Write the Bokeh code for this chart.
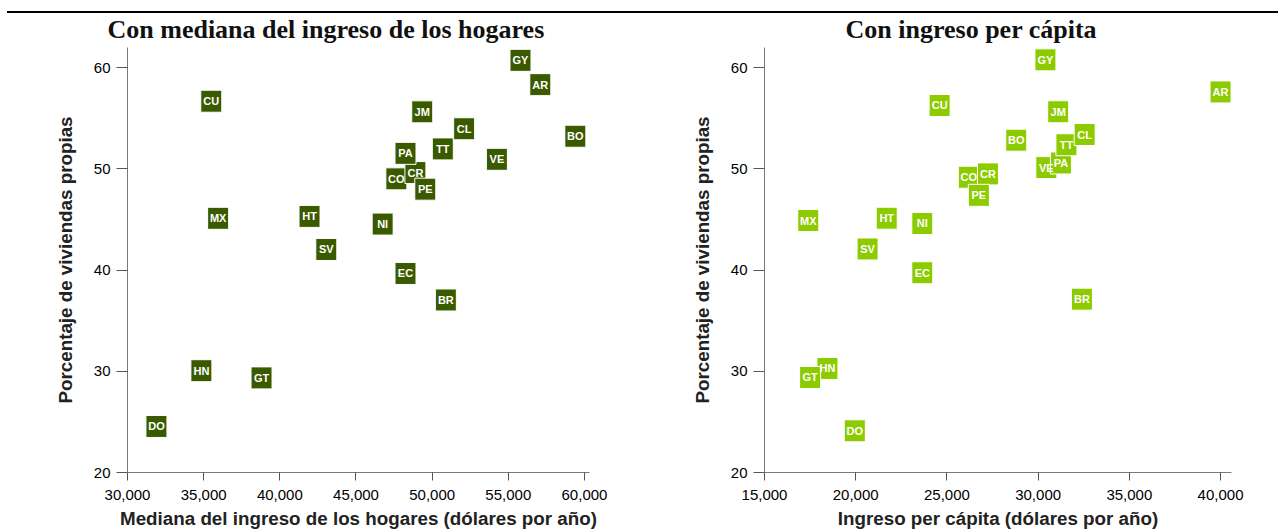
from bokeh.plotting import figure
from bokeh.models import ColumnDataSource, FixedTicker, NumeralTickFormatter, Div
from bokeh.layouts import row, column
from bokeh.embed import file_html
from bokeh.resources import INLINE
from bokeh.core.properties import value

# ---- data ----
paises = ["DO", "HN", "GT", "MX", "CU", "HT", "SV", "NI", "EC", "CO", "CR",
          "VE", "PA", "PE", "JM", "TT", "BR", "CL", "BO", "AR", "GY"]

# panel 1: mediana del ingreso de los hogares (dólares por año)
mediana_ingreso = [31900, 34850, 38800, 35950, 35500, 41950, 43050, 46750, 48250, 47650, 48900,
                   54250, 48250, 49550, 49350, 50700, 50900, 52100, 59400, 57100, 55800]
viviendas_propias_1 = [24.55, 30.06, 29.35, 45.12, 56.69, 45.31, 42.04, 44.55, 39.67, 49.02, 49.64,
                       50.95, 51.54, 48.00, 55.64, 51.98, 37.05, 53.97, 53.23, 58.33, 60.73]

# panel 2: ingreso per cápita (dólares por año)
ingreso_per_capita = [19950, 18450, 17500, 17400, 24600, 21700, 20650, 23650, 23650, 26200, 27250,
                      30450, 31250, 26750, 31100, 31550, 32400, 32550, 28800, 40000, 30400]
viviendas_propias_2 = [24.12, 30.28, 29.39, 44.90, 56.27, 45.13, 42.09, 44.61, 39.74, 49.18, 49.51,
                       50.13, 50.59, 47.39, 55.65, 52.39, 37.13, 53.40, 52.84, 57.61, 60.78]

ticks_x1 = [30000, 35000, 40000, 45000, 50000, 55000, 60000]
ticks_x2 = [15000, 20000, 25000, 30000, 35000, 40000]
ticks_y = [20, 30, 40, 50, 60]

titulo_1 = "Con mediana del ingreso de los hogares"
titulo_2 = "Con ingreso per cápita"
etiqueta_x1 = "Mediana del ingreso de los hogares (dólares por año)"
etiqueta_x2 = "Ingreso per cápita (dólares por año)"
etiqueta_y = "Porcentaje de viviendas propias"

VERDE_OSCURO = "#3a5a00"
VERDE_CLARO = "#8ccb00"


def panel(xs, ys, color, titulo, etiqueta_x, x_range, ticks_x, width, bl, br, title_offset):
    src = ColumnDataSource(dict(x=xs, y=ys, c=paises))
    p = figure(width=width, height=531, x_range=x_range, y_range=(20, 62),
               output_backend="svg", toolbar_location=None,
               min_border_left=bl, min_border_right=br,
               min_border_top=47, min_border_bottom=57)
    p.title.text = titulo
    p.title.align = "left"
    p.title.text_font = "Liberation Serif"
    p.title.text_font_style = "bold"
    p.title.text_font_size = "26px"
    p.title.text_color = "#111111"
    p.title.offset = title_offset
    p.title.standoff = 7

    p.rect(x="x", y="y", width=21, height=22, width_units="screen", height_units="screen",
           fill_color=color, line_color="white", line_width=1, source=src)
    p.text(x="x", y="y", text="c", text_align="center", text_baseline="middle",
           text_color="white", text_font=value("Liberation Sans"), text_font_style="bold",
           text_font_size="11px", source=src)

    p.grid.grid_line_color = None
    p.outline_line_color = None

    p.xaxis.ticker = FixedTicker(ticks=ticks_x)
    p.xaxis.formatter = NumeralTickFormatter(format="0,0")
    p.yaxis.ticker = FixedTicker(ticks=ticks_y)
    p.xaxis.axis_label = etiqueta_x
    p.yaxis.axis_label = etiqueta_y

    for ax in (p.xaxis[0], p.yaxis[0]):
        ax.axis_line_color = "#7a7a7a"
        ax.major_tick_line_color = "#555555"
        ax.minor_tick_line_color = None
        ax.major_tick_in = 0
        ax.major_label_text_font = "Liberation Sans"
        ax.major_label_text_font_size = "15px"
        ax.major_label_text_color = "#000000"
        ax.axis_label_text_font = "Liberation Sans"
        ax.axis_label_text_font_style = "bold"
        ax.axis_label_text_font_size = "18.8px"
        ax.axis_label_text_color = "#222222"
    p.xaxis.major_tick_out = 8
    p.xaxis.major_label_standoff = 9
    p.xaxis.axis_label_standoff = 5
    p.yaxis.major_tick_out = 11
    p.yaxis.major_label_standoff = 6
    p.yaxis.axis_label_standoff = 15
    return p


p1 = panel(mediana_ingreso, viviendas_propias_1, VERDE_OSCURO, titulo_1, etiqueta_x1,
           (30000, 60330), ticks_x1, 648, 127, 59, -20)
p2 = panel(ingreso_per_capita, viviendas_propias_2, VERDE_CLARO, titulo_2, etiqueta_x2,
           (15000, 40600), ticks_x2, 630, 116, 47, 81)

linea = Div(text="", width=1271, height=2, margin=(11, 0, -13, 7),
            styles={"background-color": "#000000", "z-index": "5"})

layout = column(linea, row(p1, p2, spacing=0), spacing=0)

open("out.html", "w").write(file_html(layout, INLINE))
